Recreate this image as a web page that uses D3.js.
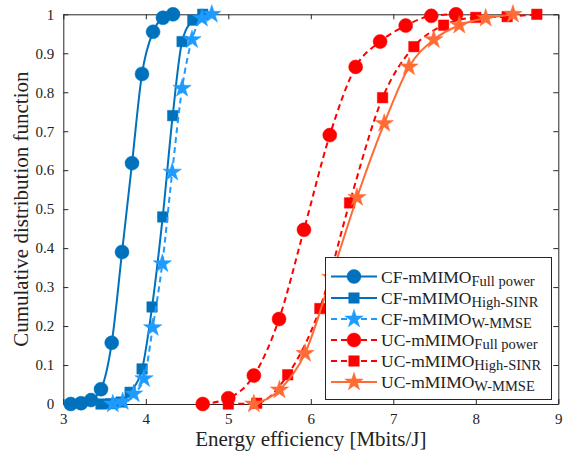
<!DOCTYPE html>
<html>
<head>
<meta charset="utf-8">
<script src="https://cdn.jsdelivr.net/npm/d3@7"></script>
<style>
  body { margin: 0; background: white; }
</style>
</head>
<body>
<svg width="574" height="453"></svg>
<script>
// values (energy efficiency, CDF)
const cfFullX = [3.09, 3.215, 3.336, 3.457, 3.587, 3.712, 3.833, 3.954, 4.088, 4.208, 4.33]
const cfFullY = [0, 0.002, 0.01, 0.038, 0.157, 0.39, 0.618, 0.847, 0.955, 0.991, 1]
const cfHighX = [3.457, 3.578, 3.70, 3.81, 3.955, 4.076, 4.205, 4.326, 4.44, 4.57, 4.69]
const cfHighY = [0, 0.001, 0.005, 0.03, 0.09, 0.249, 0.48, 0.74, 0.93, 0.985, 1]
const cfWmmseX = [3.60, 3.72, 3.853, 3.978, 4.084, 4.20, 4.32, 4.44, 4.56, 4.68, 4.80]
const cfWmmseY = [0, 0.006, 0.026, 0.065, 0.196, 0.36, 0.595, 0.81, 0.935, 0.99, 1]
const ucFullX = [4.69, 5.0, 5.31, 5.615, 5.917, 6.23, 6.544, 6.84, 7.15, 7.46, 7.76]
const ucFullY = [0, 0.015, 0.073, 0.218, 0.447, 0.69, 0.865, 0.93, 0.971, 0.996, 1]
const ucHighX = [5.0, 5.344, 5.72, 6.11, 6.47, 6.87, 7.25, 7.61, 8.0, 8.38, 8.74]
const ucHighY = [0, 0.002, 0.075, 0.245, 0.516, 0.786, 0.917, 0.972, 0.992, 0.994, 1]
const ucWmmseX = [5.31, 5.62, 5.93, 6.245, 6.56, 6.89, 7.19, 7.49, 7.80, 8.12, 8.45]
const ucWmmseY = [0, 0.036, 0.13, 0.325, 0.53, 0.72, 0.865, 0.935, 0.972, 0.99, 1]

const xTicks = [3, 4, 5, 6, 7, 8, 9]
const yTicks = [0, 0.1, 0.2, 0.3, 0.4, 0.5, 0.6, 0.7, 0.8, 0.9, 1]

const series = [
  {name: "CF-mMIMO", sub: "Full power", xs: cfFullX, ys: cfFullY, color: "#0072BD", dash: null, sym: d3.symbolCircle, size: 154},
  {name: "CF-mMIMO", sub: "High-SINR", xs: cfHighX, ys: cfHighY, color: "#0072BD", dash: null, sym: d3.symbolSquare, size: 110},
  {name: "CF-mMIMO", sub: "W-MMSE", xs: cfWmmseX, ys: cfWmmseY, color: "#1E9BFF", dash: "6,4", sym: d3.symbolStar, size: 105},
  {name: "UC-mMIMO", sub: "Full power", xs: ucFullX, ys: ucFullY, color: "#FF0000", dash: "6,4", sym: d3.symbolCircle, size: 154},
  {name: "UC-mMIMO", sub: "High-SINR", xs: ucHighX, ys: ucHighY, color: "#FF0000", dash: "6,4", sym: d3.symbolSquare, size: 110},
  {name: "UC-mMIMO", sub: "W-MMSE", xs: ucWmmseX, ys: ucWmmseY, color: "#FF6B35", dash: null, sym: d3.symbolStar, size: 105}
]

const serif = "'Liberation Serif', 'DejaVu Serif', serif"
const svg = d3.select("svg")
const mLeft = 63.3, mRight = 558.3, mTop = 14.3, mBottom = 404

const x = d3.scaleLinear().domain([3, 9]).range([mLeft, mRight])
const y = d3.scaleLinear().domain([0, 1]).range([mBottom, mTop])

// axes box with inward ticks on all sides
const tickLen = 5
const fmt = d3.format("~g")
svg.append("g").attr("transform", `translate(0,${mBottom})`)
  .call(d3.axisBottom(x).tickValues(xTicks).tickSizeInner(-tickLen).tickSizeOuter(0).tickPadding(9).tickFormat(fmt))
svg.append("g").attr("transform", `translate(0,${mTop})`)
  .call(d3.axisTop(x).tickValues(xTicks).tickSizeInner(-tickLen).tickSizeOuter(0).tickFormat(""))
svg.append("g").attr("transform", `translate(${mLeft},0)`)
  .call(d3.axisLeft(y).tickValues(yTicks).tickSizeInner(-tickLen).tickSizeOuter(0).tickPadding(9).tickFormat(fmt))
svg.append("g").attr("transform", `translate(${mRight},0)`)
  .call(d3.axisRight(y).tickValues(yTicks).tickSizeInner(-tickLen).tickSizeOuter(0).tickFormat(""))

svg.selectAll(".domain").attr("stroke", "#262626").attr("stroke-width", 1)
svg.selectAll(".tick line").attr("stroke", "#262626")
svg.selectAll(".tick text")
  .style("font-family", serif).style("font-size", "15px").attr("fill", "#222")

svg.append("text")
  .attr("x", (mLeft + mRight) / 2).attr("y", 446)
  .attr("text-anchor", "middle")
  .style("font-family", serif).style("font-size", "21px").attr("fill", "#222")
  .text("Energy efficiency [Mbits/J]")
svg.append("text")
  .attr("transform", `translate(28,${(mTop + mBottom) / 2}) rotate(-90)`)
  .attr("text-anchor", "middle")
  .style("font-family", serif).style("font-size", "21px").attr("fill", "#222")
  .text("Cumulative distribution function")

const line = d3.line()
  .x(d => x(d[0])).y(d => y(d[1]))
  .curve(d3.curveMonotoneX)

const plot = svg.append("g")
series.forEach(s => {
  const pts = s.xs.map((v, i) => [v, s.ys[i]])
  plot.append("path")
    .attr("d", line(pts))
    .attr("fill", "none")
    .attr("stroke", s.color)
    .attr("stroke-width", 2)
    .attr("stroke-dasharray", s.dash)
  plot.selectAll(null).data(pts).join("path")
    .attr("d", d3.symbol(s.sym, s.size))
    .attr("transform", d => `translate(${x(d[0])},${y(d[1])})`)
    .attr("fill", s.color)
    .attr("stroke", s.color)
    .attr("stroke-width", 0.5)
})

// legend
const lg = svg.append("g")
lg.append("rect")
  .attr("x", 325.5).attr("y", 257.5).attr("width", 226).attr("height", 142)
  .attr("fill", "white").attr("stroke", "#262626").attr("stroke-width", 1)
const rowY = [276.5, 298, 319, 340, 361, 382]
series.forEach((s, i) => {
  const g = lg.append("g").attr("transform", `translate(0,${rowY[i]})`)
  g.append("line")
    .attr("x1", 331).attr("x2", 377).attr("y1", 0).attr("y2", 0)
    .attr("stroke", s.color).attr("stroke-width", 2)
    .attr("stroke-dasharray", s.dash)
  g.append("path")
    .attr("d", d3.symbol(s.sym, s.size))
    .attr("transform", "translate(354,0)")
    .attr("fill", s.color).attr("stroke", s.color).attr("stroke-width", 0.5)
  const t = g.append("text").attr("x", 381).attr("y", 6)
    .style("font-family", serif).style("font-size", "17.5px").attr("fill", "#222")
  t.append("tspan").text(s.name)
  t.append("tspan").attr("dy", 3).style("font-size", "14.5px").text(s.sub)
})
</script>
</body>
</html>
